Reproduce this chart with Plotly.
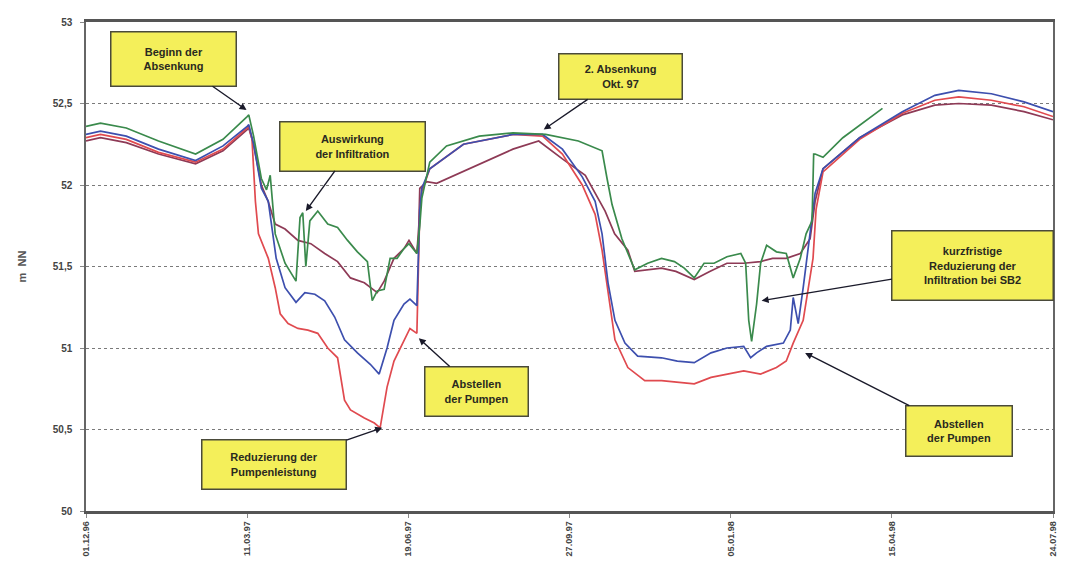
import pandas as pd
import plotly.graph_objects as go

BASE = pd.Timestamp("1996-12-01")

tick_labels = ["01.12.96", "11.03.97", "19.06.97", "27.09.97", "05.01.98", "15.04.98", "24.07.98"]
tick_days = [0, 100, 200, 300, 400, 500, 600]

# Series: day offsets from 01.12.96 and water level (m NN)
green_days = [0, 9, 25, 45, 68, 85, 100, 101, 104, 108.8, 112, 114.3, 117.4, 123.5, 130.3, 132.8, 134.5,
              136.4, 138.9, 143.8, 150, 156.1, 162.3, 168.4, 174.6, 177.6, 180.7, 185, 188.7, 193, 197.3,
              200.4, 205.3, 207.1, 208.4, 213.3, 223.7, 244, 264.9, 285.2, 305.5, 320.2, 323.3, 326.4,
              332.5, 340.5, 348.5, 357.1, 365.1, 371.2, 377.4, 383.5, 389.7, 397.7, 406.3, 409.3, 411.2,
              413, 416.1, 418.6, 422.3, 428.4, 434.5, 438.8, 443.2, 446.8, 450.5, 451.5, 452.4, 457.3,
              469.6, 494.2]
green_vals = [52.36, 52.38, 52.35, 52.27, 52.19, 52.28, 52.42, 52.43, 52.30, 52.04, 51.97, 52.06, 51.70,
              51.52, 51.41, 51.80, 51.83, 51.50, 51.78, 51.84, 51.76, 51.74, 51.66, 51.59, 51.53, 51.29,
              51.35, 51.36, 51.55, 51.55, 51.61, 51.64, 51.58, 51.75, 51.92, 52.14, 52.24, 52.30, 52.32,
              52.31, 52.27, 52.21, 52.04, 51.88, 51.67, 51.48, 51.52, 51.55, 51.53, 51.49, 51.43, 51.52,
              51.52, 51.56, 51.58, 51.52, 51.17, 51.04, 51.27, 51.52, 51.63, 51.59, 51.58, 51.43, 51.55,
              51.70, 51.78, 52.19, 52.19, 52.17, 52.29, 52.47]

maroon_days = [0, 9, 25, 45, 68, 85, 100, 101, 104, 108.8, 113, 117.4, 123.5, 131.5, 139.5, 148.1, 156.1,
               164.1, 172.7, 180.7, 185, 191.1, 197.3, 200.4, 205.3, 206.5, 207.1, 211.4, 217.6, 244,
               264.9, 280.9, 295.6, 309.8, 322.1, 328, 336.2, 340.5, 348.5, 357.1, 366, 377.4, 387,
               397.7, 408, 418.6, 426, 434.5, 443.2, 449.3, 452.4, 457.3, 480, 506.5, 526.7, 541.5,
               561.8, 582, 600]
maroon_vals = [52.27, 52.29, 52.26, 52.19, 52.13, 52.21, 52.34, 52.35, 52.25, 52.00, 51.90, 51.76, 51.73,
               51.66, 51.64, 51.58, 51.53, 51.43, 51.40, 51.34, 51.41, 51.55, 51.61, 51.66, 51.58, 51.75,
               51.98, 52.02, 52.01, 52.13, 52.22, 52.27, 52.16, 52.06, 51.84, 51.70, 51.60, 51.47, 51.48,
               51.49, 51.47, 51.42, 51.47, 51.52, 51.52, 51.53, 51.55, 51.55, 51.58, 51.67, 51.90, 52.10,
               52.29, 52.43, 52.49, 52.50, 52.49, 52.45, 52.40]

blue_days = [0, 9, 25, 45, 68, 85, 100, 101, 104, 108.8, 113.1, 118, 123.5, 130.3, 135.8, 142, 148.1,
             154.3, 160.4, 168.4, 176.4, 181.9, 186.8, 191.1, 197.3, 201, 205.3, 206.5, 207.1, 208.4,
             213.3, 234.2, 264.9, 283.3, 295.6, 307.9, 315.9, 320.2, 323.9, 328.2, 334.4, 342.3, 357.1,
             366.9, 377.4, 387.8, 397.7, 408.1, 412.4, 416.1, 422.3, 432.7, 437, 438.8, 441.9, 445,
             449.3, 452.4, 457.3, 480, 506.5, 526.7, 541.5, 561.8, 582, 600]
blue_vals = [52.31, 52.33, 52.30, 52.22, 52.15, 52.24, 52.36, 52.37, 52.25, 51.98, 51.90, 51.55, 51.37,
             51.28, 51.34, 51.33, 51.29, 51.19, 51.05, 50.97, 50.90, 50.84, 51.00, 51.17, 51.27, 51.30,
             51.26, 51.60, 51.85, 51.98, 52.10, 52.25, 52.31, 52.31, 52.22, 52.05, 51.90, 51.70, 51.40,
             51.17, 51.03, 50.95, 50.94, 50.92, 50.91, 50.97, 51.00, 51.01, 50.94, 50.97, 51.01, 51.03,
             51.11, 51.31, 51.15, 51.37, 51.72, 51.95, 52.10, 52.29, 52.45, 52.55, 52.58, 52.56, 52.51,
             52.45]

red_days = [0, 9, 25, 45, 68, 85, 100, 101, 103, 105.1, 107, 113.1, 117.4, 120.5, 125.4, 131.5, 137.7,
            143.8, 150, 156.1, 160.4, 164.1, 172.7, 178.9, 182.5, 186.8, 191.1, 197.3, 201, 205.3,
            206.5, 207.1, 208.4, 213.3, 234.2, 264.9, 283.3, 295.6, 307.9, 315.9, 320.2, 323.9, 328.2,
            336.2, 346.7, 357.1, 367, 377.4, 387.8, 397.7, 408.1, 418.6, 428.4, 434.5, 438.8, 445,
            451.1, 453, 457.3, 480, 506.5, 526.7, 541.5, 561.8, 582, 600]
red_vals = [52.29, 52.31, 52.28, 52.20, 52.14, 52.22, 52.35, 52.36, 52.28, 51.90, 51.70, 51.55, 51.37,
            51.21, 51.15, 51.12, 51.11, 51.09, 51.00, 50.94, 50.68, 50.62, 50.57, 50.54, 50.51, 50.76,
            50.92, 51.05, 51.12, 51.09, 51.55, 51.85, 51.96, 52.10, 52.25, 52.31, 52.30, 52.19, 52.00,
            51.82, 51.60, 51.35, 51.05, 50.88, 50.80, 50.80, 50.79, 50.78, 50.82, 50.84, 50.86, 50.84,
            50.88, 50.92, 51.03, 51.17, 51.55, 51.85, 52.08, 52.28, 52.44, 52.52, 52.54, 52.52, 52.48,
            52.42]

series = [
    ("Pegel 1", maroon_days, maroon_vals, "#8e3a56"),
    ("Pegel 2", red_days, red_vals, "#e04a4f"),
    ("Pegel 3", blue_days, blue_vals, "#3d4fae"),
    ("Pegel 4", green_days, green_vals, "#3a8a4c"),
]

# Annotations: text, arrow-head (day, level), box offset (px), box size (px)
notes = [
    ("Beginn der<br>Absenkung", 99.6, 52.46, -73, -51, 120, 49),
    ("Auswirkung<br>der Infiltration", 136.4, 51.84, 47, -65, 140, 44),
    ("2. Absenkung<br>Okt. 97", 284, 52.34, 77, -53, 118, 40),
    ("kurzfristige<br>Reduzierung der<br>Infiltration bei SB2", 419.2, 51.29, 211, -35, 156, 64),
    ("Abstellen<br>der Pumpen", 206.5, 51.06, 58, 53, 98, 44),
    ("Reduzierung der<br>Pumpenleistung", 183.8, 50.51, -108, 37, 139, 44),
    ("Abstellen<br>der Pumpen", 446.2, 50.97, 154, 78, 101, 45),
]

FONT = "Liberation Sans, Arial, sans-serif"


def to_dates(days):
    return BASE + pd.to_timedelta(days, unit="D")


fig = go.Figure()
for name, d, v, c in series:
    fig.add_trace(go.Scatter(x=to_dates(d), y=v, mode="lines", name=name,
                             line=dict(color=c, width=1.7), showlegend=False))

for text, d, v, ax, ay, w, h in notes:
    fig.add_annotation(
        x=to_dates([d])[0], y=v, xref="x", yref="y", text="<b>" + text + "</b>",
        showarrow=True, ax=ax, ay=ay, arrowhead=2, arrowsize=1, arrowwidth=1.4,
        arrowcolor="#1a1a2a", bgcolor="#f4ef5a", bordercolor="#4a4a3a", borderwidth=1.5,
        borderpad=2, width=w, height=h, align="center",
        font=dict(family=FONT, size=11, color="#2a2a20"),
    )

# the page body has an 8px default margin: size the figure so the plot lands where intended
fig.update_layout(
    width=1058, height=579,
    margin=dict(l=78, r=8, t=12, b=76),
    paper_bgcolor="white", plot_bgcolor="white",
    separators=",.",
    font=dict(family=FONT, color="#444"),
)

fig.update_xaxes(
    range=[BASE, to_dates([600])[0]],
    tickvals=list(to_dates(tick_days)), ticktext=tick_labels, tickangle=-90,
    tickfont=dict(size=9, color="#444", weight="bold"),
    showgrid=False, showline=True, linecolor="#555", linewidth=2.5, mirror=True,
    ticks="outside", ticklen=4, tickcolor="#888", zeroline=False,
)
fig.update_yaxes(
    range=[50, 53], dtick=0.5, tick0=50,
    tickfont=dict(size=10, color="#444", family=FONT, weight="bold"),
    showgrid=True, gridcolor="#7a7a7a", griddash="dot", gridwidth=1.2,
    showline=True, linecolor="#666", linewidth=1.5, mirror=True,
    ticks="outside", ticklen=4, tickcolor="#888", zeroline=False, ticklabelstandoff=6,
    title=dict(text="m  NN", font=dict(size=11, color="#555", weight="bold"), standoff=24),
)

fig.write_html("out.html")
